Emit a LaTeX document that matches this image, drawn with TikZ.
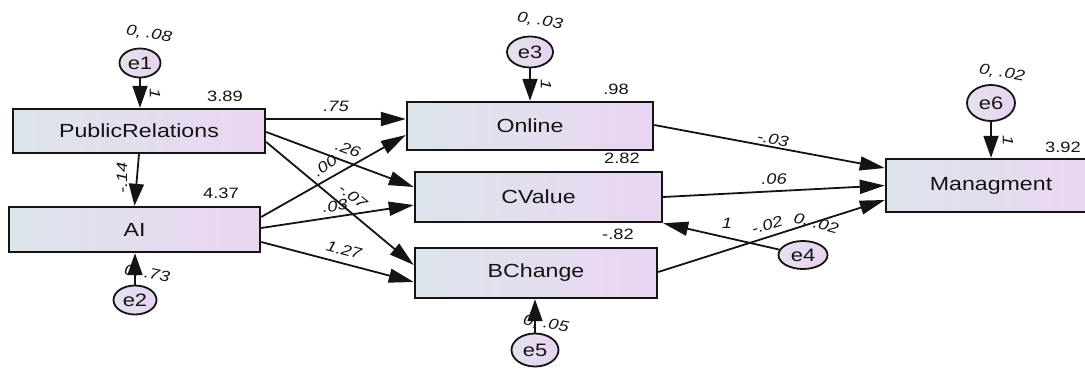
\documentclass[tikz,border=0pt]{standalone}
\usepackage{fontspec}
\setmainfont{Liberation Sans}
\usetikzlibrary{arrows.meta,shapes.geometric}
\definecolor{boxl}{HTML}{DCE5EA}
\definecolor{boxr}{HTML}{EAD5F2}
\definecolor{ell}{HTML}{E4E2EC}
\definecolor{elr}{HTML}{E8D2F0}
\definecolor{ink}{HTML}{141414}
\newcommand{\sx}[1]{\scalebox{1.22}[1]{#1}}
\begin{document}
\begin{tikzpicture}[x=1pt,y=-1pt,
  obs/.style={draw=ink, line width=2.4pt, left color=boxl, right color=boxr, inner sep=0pt, text=ink, font=\fontsize{19}{21}\selectfont},
  err/.style={ellipse, draw=ink, line width=1.8pt, left color=ell, right color=elr, inner sep=0pt, text=ink, font=\fontsize{18}{19}\selectfont},
  hpath/.style={draw=ink, line width=1.8pt, -{Triangle[length=25pt,width=14pt]}},
  vpath/.style={draw=ink, line width=1.8pt, -{Triangle[length=22pt,width=15pt]}},
  num/.style={inner sep=0pt, text=ink, font=\fontsize{15}{16}\selectfont},
  var/.style={inner sep=0pt, text=ink, font=\fontsize{15}{16}\selectfont\itshape}
]
\useasboundingbox (0,0) rectangle (1085,369);

% labels (drawn first so arrows may cover them)
\node[var, rotate=-10] (v1) at (149,34) {\sx{0, .08}};
\node[var, rotate=-10] (v2) at (147,274) {\sx{0, .73}};
\node[var, rotate=-10] (v3) at (540,21) {\sx{0, .03}};
\node[var, rotate=-10] (v5) at (546,324) {\sx{0, .05}};
\node[var, rotate=-10] (v6) at (1002,73) {\sx{0, .02}};
\node[var, rotate=-15] (v4) at (816,224) {\sx{0, .02}};
\node[var, rotate=-90] (w1) at (155,94) {\sx{1}};
\node[var, rotate=-90] (w3) at (546,85) {\sx{1}};
\node[var, rotate=-90] (w6) at (1008,141) {\sx{1}};
\node[var] (w4) at (727,223) {\sx{1}};

\node[num] (i1) at (225,96) {\sx{3.89}};
\node[num] (i2) at (221,193) {\sx{4.37}};
\node[num] (i3) at (616,89) {\sx{.98}};
\node[num] (i4) at (622,158) {\sx{2.82}};
\node[num] (i5) at (618,234) {\sx{-.82}};
\node[num] (i6) at (1063,147) {\sx{3.92}};

\node[var, rotate=90] (c0) at (122,178) {\sx{-.14}};
\node[var] (c1) at (336,106) {\sx{.75}};
\node[var, rotate=-20] (c2) at (348,149) {\sx{.26}};
\node[var, rotate=-38] (c3) at (353,196) {\sx{-.07}};
\node[var, rotate=35] (c4) at (325,166) {\sx{.00}};
\node[var, rotate=8] (c5) at (335,206) {\sx{.03}};
\node[var, rotate=-14] (c6) at (344,250) {\sx{1.27}};
\node[var, rotate=-10] (c7) at (773,139) {\sx{-.03}};
\node[var, rotate=3] (c8) at (774,179) {\sx{.06}};
\node[var, rotate=17] (c9) at (767,225) {\sx{-.02}};

% observed variables
\node[obs, minimum width=252pt, minimum height=44pt] (PR) at (139,131) {\sx{PublicRelations}};
\node[obs, minimum width=251pt, minimum height=45pt] (AI) at (134.5,229.5) {\sx{AI}};
\node[obs, minimum width=246pt, minimum height=48pt] (ON) at (530,126) {\sx{Online}};
\node[obs, minimum width=247pt, minimum height=50pt] (CV) at (538.5,197) {\sx{CValue}};
\node[obs, minimum width=242pt, minimum height=50pt] (BC) at (536,273) {\sx{BChange}};
\node[obs, minimum width=210pt, minimum height=53pt] (MG) at (991,185.5) {\sx{Managment}};

% error terms
\node[err, minimum width=41pt, minimum height=29pt] (e1) at (140,63) {\sx{e1}};
\node[err, minimum width=43pt, minimum height=29pt] (e2) at (135,300) {\sx{e2}};
\node[err, minimum width=46pt, minimum height=31pt] (e3) at (530,52) {\sx{e3}};
\node[err, minimum width=49pt, minimum height=28pt] (e4) at (803,255) {\sx{e4}};
\node[err, minimum width=47pt, minimum height=33pt] (e5) at (535,350) {\sx{e5}};
\node[err, minimum width=48pt, minimum height=36pt] (e6) at (991,103) {\sx{e6}};

% error paths
\draw[vpath] (e1) -- (e1 |- PR.north);
\draw[vpath] (e2) -- (e2 |- AI.south);
\draw[vpath] (e3) -- (e3 |- ON.north);
\draw[vpath] (e5) -- (e5 |- BC.south);
\draw[vpath] (e6) -- (e6 |- MG.north);
\draw[hpath] (e4) -- (CV.south east);

% structural paths
\draw[vpath] (PR.south) -- (AI.north);
\draw[hpath] ([yshift=12pt]PR.east) -- ([yshift=7pt]ON.west);
\draw[hpath] ([yshift=-1pt]PR.east) -- ([yshift=10pt]CV.west);
\draw[hpath] ([yshift=-11pt]PR.east) -- ([yshift=8pt]BC.west);
\draw[hpath] ([yshift=12.5pt]AI.east) -- ([yshift=-9pt]ON.west);
\draw[hpath] ([yshift=1.5pt]AI.east) -- ([yshift=-8pt]CV.west);
\draw[hpath] ([yshift=-12.5pt]AI.east) -- ([yshift=-9pt]BC.west);
\draw[hpath] ([yshift=1pt]ON.east) -- ([yshift=17.5pt]MG.west);
\draw[hpath] (CV.east) -- (MG.west);
\draw[hpath] ([yshift=1pt]BC.east) -- ([yshift=-14.5pt]MG.west);
\end{tikzpicture}
\end{document}
